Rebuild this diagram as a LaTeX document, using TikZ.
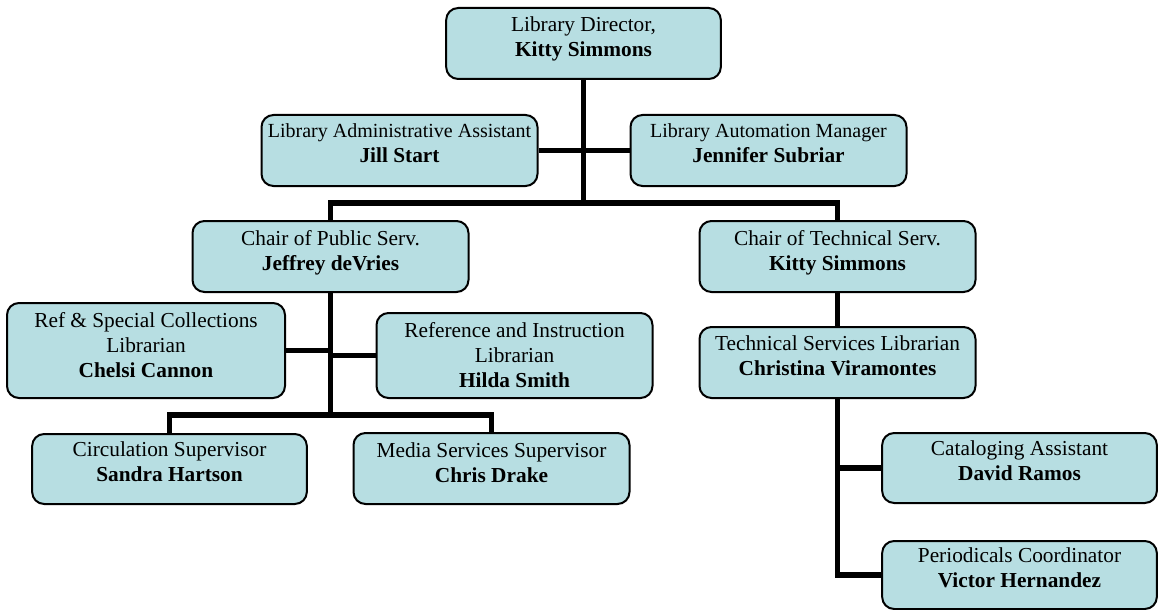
\documentclass[tikz,border=0pt]{standalone}
\usepackage{fontspec}
\setmainfont{Liberation Serif}
\usetikzlibrary{positioning}
\usepackage{xcolor}
\definecolor{boxblue}{RGB}{183,222,226}

\begin{document}
\begin{tikzpicture}[x=0.75pt, y=-0.75pt, every node/.style={
    rectangle,
    rounded corners=9pt,
    inner sep=0pt,
    draw,
    line width=1.5pt,
    fill=boxblue,
    align=center,
    minimum width=207pt,
    text height=36.75pt,
    text depth=16.5pt,
    font=\fontsize{16}{18.75}\selectfont
}, link/.style={line width=4.3pt, line join=miter}]
    \useasboundingbox (0,0) rectangle (1158,610);

    \node (director) [shift={(583.5, 43.5)}, minimum width=206pt]
    {
        Library Director,\\ \textbf{Kitty Simmons}
    };
    \node (admin_assistant) [shift={(399.5, 150.5)}, text height=35.25pt, text depth=18pt]
    {
        {\fontsize{15}{18.75}\selectfont Library Administrative Assistant}\\ \textbf{Jill Start}
    };
    \node (automation_manager) [shift={(768.5, 150.5)}, text height=35.25pt, text depth=18pt]
    {
        {\fontsize{15}{18.75}\selectfont Library Automation Manager}\\ \textbf{Jennifer Subriar}
    };
    \node (public_chair) [shift={(330.5, 256.5)}]
    {
        Chair of Public Serv.\\ \textbf{Jeffrey deVries}
    };
    \node (technical_chair) [shift={(837.5, 256.5)}]
    {
        Chair of Technical Serv.\\ \textbf{Kitty Simmons}
    };
    \node (ref_special) [shift={(146, 350.5)}, minimum width=208.5pt, text height=55.5pt, text depth=15.75pt]
    {
        Ref \& Special Collections\\ Librarian\\ \textbf{Chelsi Cannon}
    };
    \node (ref_instruction) [shift={(514.5, 355.5)}, text height=55.5pt, text depth=8.25pt]
    {
        Reference and Instruction\\ Librarian\\ \textbf{Hilda Smith}
    };
    \node (technical_librarian) [shift={(837.5, 362.5)}, text height=36pt, text depth=17.25pt]
    {
        Technical Services Librarian\\ \textbf{Christina Viramontes}
    };
    \node (circulation) [shift={(169.5, 469)}, minimum width=206pt, text height=35.25pt, text depth=17.25pt]
    {
        Circulation Supervisor\\ \textbf{Sandra Hartson}
    };
    \node (media) [shift={(491.5, 468.5)}]
    {
        Media Services Supervisor\\ \textbf{Chris Drake}
    };
    \node (cataloging) [shift={(1019.5, 468)}, minimum width=206pt, text height=35.25pt, text depth=17.25pt]
    {
        Cataloging Assistant\\ \textbf{David Ramos}
    };
    \node (periodicals) [shift={(1019.5, 575)}, minimum width=206pt, text height=34.5pt, text depth=16.5pt]
    {
        Periodicals Coordinator\\ \textbf{Victor Hernandez}
    };

    \coordinate (top_split) at (583.5, 203);
    \coordinate (public_split) at (330.5, 415);

    \draw[link] (director) to (top_split);
    \draw[link] (admin_assistant) to (automation_manager);
    \draw[link] (public_chair.north) |- (top_split) -| (technical_chair.north);

    \draw[link] (public_chair) to (public_split);
    \draw[link] (ref_special.east) to (ref_special.east -| public_chair.south);
    \draw[link] (ref_instruction.west) to (ref_instruction.west -| public_chair.south);
    \draw[link] (circulation.north) |- (public_split) -| (media.north);

    \draw[link] (technical_chair) to (technical_librarian);
    \draw[link] (technical_librarian.south) |- (periodicals.west);
    \draw[link] (cataloging.west -| technical_librarian.south) to (cataloging.west);
\end{tikzpicture}
\end{document}
